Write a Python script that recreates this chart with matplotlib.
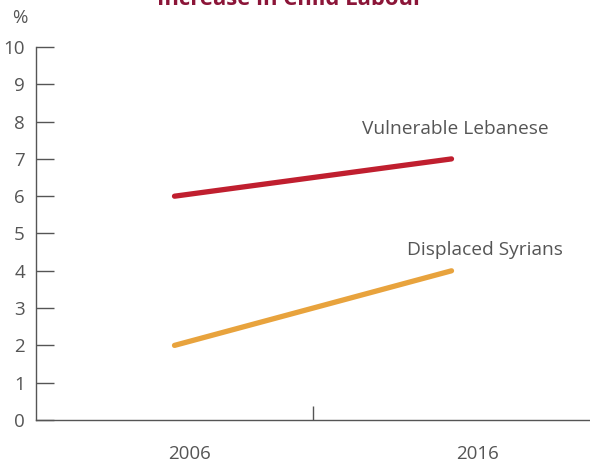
import matplotlib
matplotlib.use("Agg")
import matplotlib.pyplot as plt

years = ["2006", "2016"]
series_names = ["Vulnerable Lebanese", "Displaced Syrians"]
lebanese = [6, 7]
syrians = [2, 4]
yticks = list(range(0, 11))
title = "Increase in Child Labour"

plt.rcParams['font.family'] = ['Open Sans', 'DejaVu Sans']
W, H = 590, 463
fig = plt.figure(figsize=(W/100, H/100), dpi=100)
ax = fig.add_axes([36/W, (H-420)/H, (590-36)/W, (420-47)/H])

red = "#c01f2f"
orange = "#e8a33d"
grey = "#555555"
axc = "#555555"

x = list(range(len(years)))
ax.plot(x, lebanese, color=red, lw=3.8, solid_capstyle='round')
ax.plot(x, syrians, color=orange, lw=3.8, solid_capstyle='round')

ax.set_xlim(-0.5, 1.5)
ax.set_ylim(0, 10)
for s in ["top", "right"]:
    ax.spines[s].set_visible(False)
for s in ["left", "bottom"]:
    ax.spines[s].set_color(axc)
    ax.spines[s].set_linewidth(1.0)

ax.set_yticks(yticks)
ax.set_yticklabels([str(v) for v in yticks], fontsize=13.5, color=grey)
ax.tick_params(axis='y', direction='in', length=13, width=1.0, color=axc, pad=8)
ax.set_xticks([0.5])
ax.set_xticklabels([""])
ax.tick_params(axis='x', direction='in', length=10, width=1.0, color=axc)

label_offsets = [0.054, 0.094]
for xi, lab, off in zip(x, years, label_offsets):
    ax.text(xi + off, -0.9, lab, ha='center', va='center', fontsize=13.5, color=grey,
            transform=ax.transData, clip_on=False)

ax.text(1.015, lebanese[1] + 0.8, series_names[0], ha='center', va='center',
        fontsize=13.8, color=grey)
ax.text(1.12, syrians[1] + 0.55, series_names[1], ha='center', va='center',
        fontsize=13.8, color=grey)

fig.text(20/W, 1 - 18/H, "%", ha='center', va='center', fontsize=13.5, color=grey)
fig.text(290/W, 1 - 5/H, title, ha='center', va='baseline', fontsize=15.8,
         fontweight='bold', color="#8b1538")

fig.savefig("out.png", dpi=100)
